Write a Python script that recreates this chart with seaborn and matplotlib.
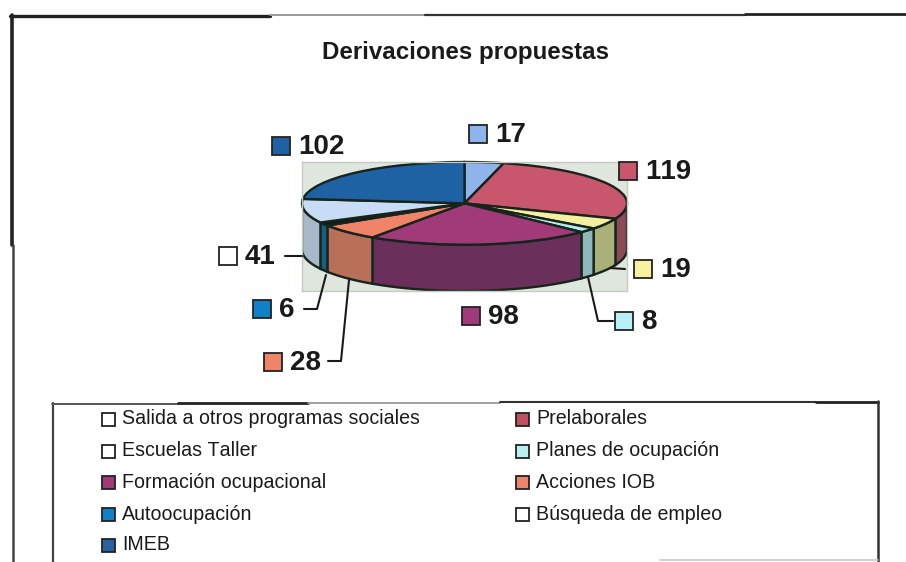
import numpy as np
import matplotlib
matplotlib.use('Agg')
import matplotlib.pyplot as plt
from matplotlib.patches import Rectangle
import seaborn as sns

sns.set_theme(style='white')
plt.rcParams['font.family'] = ['Liberation Sans', 'DejaVu Sans']
plt.rcParams['text.kerning_factor'] = 6

# clockwise from the top of the pie
names = ['Salida a otros programas sociales', 'Prelaborales', 'Escuelas Taller',
         'Planes de ocupación', 'Formación ocupacional', 'Acciones IOB',
         'Autoocupación', 'Búsqueda de empleo', 'IMEB']
values = [17, 119, 19, 8, 98, 28, 6, 41, 102]

top_colors = ['#8fb4ec', '#c8566c', '#f5f0a0', '#b5ecf0', '#a03a78',
              '#f08468', '#101820', '#c9dcf6', '#1f62a4']
side_colors = ['#6f8cb8', '#8a4a58', '#a9b078', '#8fb8bc', '#6b2f5c',
               '#b87058', '#146080', '#a8b8c8', '#174a7c']
label_colors = ['#8fb4ec', '#c8566c', '#f8f2a0', '#b8f0f8', '#a03a78',
                '#f08468', '#1080c8', '#ffffff', '#1f62a4']
legend_colors = ['#ffffff', '#c05060', '#ffffff', '#b8f0f0', '#a03a78',
                 '#f08468', '#1080c8', '#ffffff', '#2a62a0']

W, H = 906, 562
EDGE = '#16241c'
DEPTH = 1.12   # wall height, in units of the squashed pie


def box(px0, py0, px1, py1):
    return [px0 / W, 1 - py1 / H, (px1 - px0) / W, (py1 - py0) / H]


fig = plt.figure(figsize=(9.06, 5.62), dpi=100, facecolor='white')

# pie: the axes patch is the pale plot area behind it
ax = fig.add_axes(box(302, 162, 627, 291), facecolor='#dfe6dd')
edges = np.cumsum([0] + values) / sum(values) * 2 * np.pi
for i in range(len(values)):
    th = np.linspace(edges[i], edges[i + 1], 200)
    # clockwise from top: front wall is where cos(th) < 0
    th = th[np.cos(th) <= 0]
    if len(th) < 2:
        continue
    x = np.sin(th)
    y = np.cos(th)
    ax.fill(np.r_[x, x[::-1]], np.r_[y, y[::-1] - DEPTH],
            color=side_colors[i], ec=EDGE, lw=1.7)
ax.pie(values, colors=sns.color_palette(top_colors), startangle=90, counterclock=False,
       radius=1, wedgeprops={'edgecolor': EDGE, 'linewidth': 1.7}, frame=True)
ax.set_aspect('auto')
ax.set_xlim(-1, 1)
ax.set_ylim(-1 - DEPTH, 1)
ax.set_xticks([])
ax.set_yticks([])
for s in ax.spines.values():
    s.set_color('#c4cbc2')
    s.set_linewidth(1)

# everything else is placed in image pixels
ov = fig.add_axes([0, 0, 1, 1], facecolor='none')
ov.set_xlim(0, W)
ov.set_ylim(H, 0)
ov.axis('off')

# scanned page frame, the line weight changes along it
frame_lines = [([11.5, 11.5], [15, 245], '#222222', 2.6),
               ([12.5, 12.5], [245, 562], '#444444', 1.8),
               ([10, 270], [15.5, 15.5], '#222222', 2.4),
               ([270, 425], [15, 15], '#9a9a9a', 1.4),
               ([425, 745], [14.5, 14.5], '#333333', 1.6),
               ([745, 906], [13.5, 13.5], '#222222', 2),
               ([52.5, 52.5], [403, 562], '#444444', 1.6),
               ([52, 178], [403.5, 403.5], '#555555', 1.4),
               ([178, 308], [403, 403], '#222222', 2),
               ([308, 500], [403, 403], '#999999', 1.3),
               ([500, 816], [402, 402], '#333333', 1.5),
               ([816, 878], [401.5, 401.5], '#222222', 2),
               ([877.5, 877.5], [401, 562], '#333333', 1.8),
               ([660, 878], [559.5, 559.5], '#c8c8c8', 1.2)]
for lx, ly, c, lw in frame_lines:
    ov.plot(lx, ly, color=c, lw=lw)

ov.text(466, 52, 'Derivaciones propuestas', ha='center', va='center',
        fontsize=17.4, fontweight='bold', color='#1a1a1a')

# data labels: swatch left, swatch top
label_pos = [(469, 125), (619, 162), (634, 260), (615, 312), (462, 307),
             (264, 353), (253, 300), (219, 247), (272, 137)]
for v, c, (px, py) in zip(values, label_colors, label_pos):
    ov.add_patch(Rectangle((px, py), 18, 18, fc=c, ec='#222222', lw=1.3))
    ov.text(px + 26, py + 10, str(v), ha='left', va='center',
            fontsize=20, fontweight='bold', color='#1a1a1a')

# leader lines
leaders = [([285, 302], [256, 256]),
           ([304, 317, 326], [309, 309, 275]),
           ([328, 341, 349], [361, 361, 280]),
           ([588, 598, 613], [277, 321, 321]),
           ([610, 625], [268, 269])]
for lx, ly in leaders:
    ov.plot(lx, ly, color='#1a1a1a', lw=1.5)

# legend, filled row by row
col_x = [102, 516]
row_y = [419, 451, 482, 514, 545]
for i, (name, c) in enumerate(zip(names, legend_colors)):
    px = col_x[i % 2]
    py = row_y[i // 2]
    ov.add_patch(Rectangle((px, py - 6.5), 13, 13, fc=c, ec='#222222', lw=1.3))
    ov.text(px + 20, py, name, ha='left', va='center', fontsize=14.1, color='#1a1a1a')

fig.savefig('out.png', dpi=100)
plt.close()
